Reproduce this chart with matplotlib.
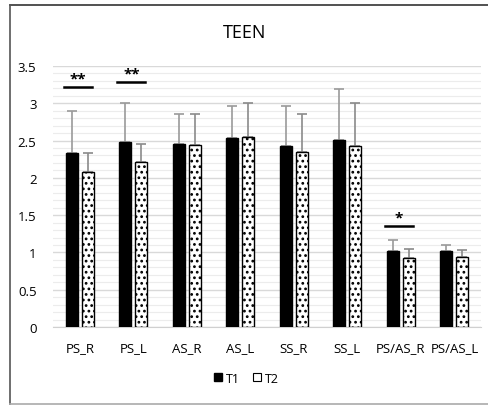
import matplotlib.pyplot as plt
import numpy as np
from matplotlib.lines import Line2D

# Data
categories = ["PS_R", "PS_L", "AS_R", "AS_L", "SS_R", "SS_L", "PS/AS_R", "PS/AS_L"]
t1 = [2.33, 2.48, 2.45, 2.54, 2.43, 2.51, 1.02, 1.02]
t2 = [2.08, 2.21, 2.44, 2.55, 2.35, 2.43, 0.92, 0.94]
t1_err = [0.56, 0.53, 0.40, 0.42, 0.53, 0.68, 0.15, 0.08]
t2_err = [0.26, 0.25, 0.41, 0.45, 0.50, 0.57, 0.12, 0.09]

# significance marks: (category index, line height, label)
sig = [(0, 3.22, "**"), (1, 3.28, "**"), (6, 1.35, "*")]

plt.rcParams['font.family'] = ['Open Sans', 'DejaVu Sans']
plt.rcParams['hatch.linewidth'] = 1.2

fig = plt.figure(figsize=(4.88, 4.06), dpi=100)
ax = fig.add_axes([0.109, 0.192, 0.877, 0.643])

x = np.arange(len(categories))
w = 0.225
off = 0.15

ax.bar(x - off, t1, w, color="black", edgecolor="black", zorder=3, label="T1")
ax.bar(x + off, t2, w, color="white", edgecolor="black", hatch="...", linewidth=1.0,
       zorder=3, label="T2")

# only upper error bars
ax.errorbar(x - off, t1, yerr=[np.zeros(len(t1)), t1_err], fmt="none",
            ecolor="#9a9a9a", elinewidth=1.2, capsize=3.5, capthick=1.2, zorder=2)
ax.errorbar(x + off, t2, yerr=[np.zeros(len(t2)), t2_err], fmt="none",
            ecolor="#8a8a8a", elinewidth=1.2, capsize=3.5, capthick=1.2, zorder=2)

for i, h, lab in sig:
    ax.plot([i - 0.3, i + 0.22], [h, h], color="black", lw=1.8, zorder=4)
    ax.text(i - 0.04, h + 0.02, lab, ha="center", va="bottom", fontsize=11,
            fontweight="bold", zorder=4)

ax.set_ylim(0, 3.5)
ax.set_xlim(-0.5, len(categories) - 0.5)
ax.set_yticks(np.arange(0, 3.51, 0.5))
ax.set_yticklabels(["0", "0.5", "1", "1.5", "2", "2.5", "3", "3.5"])
ax.set_yticks(np.arange(0, 3.51, 0.1), minor=True)
ax.set_xticks(x)
ax.set_xticklabels(categories)
ax.grid(axis="y", which="major", color="#d9d9d9", lw=1.0, zorder=0)
ax.grid(axis="y", which="minor", color="#ececec", lw=0.8, zorder=0)
ax.tick_params(axis="both", which="both", length=0, labelsize=9.5, colors="black", pad=10)
ax.tick_params(axis="y", pad=12)
for s in ["top", "right", "left"]:
    ax.spines[s].set_visible(False)
ax.spines["bottom"].set_color("#d0d0d0")

fig.text(0.502, 0.918, "TEEN", ha="center", va="center", fontsize=13)

handles = [Line2D([], [], marker="s", color="black", linestyle="none", markersize=6,
                  markerfacecolor="black"),
           Line2D([], [], marker="s", color="black", linestyle="none", markersize=6,
                  markerfacecolor="white", markeredgewidth=0.8)]
fig.legend(handles, ["T1", "T2"], loc="center", bbox_to_anchor=(0.502, 0.066), ncol=2,
           frameon=False, fontsize=9, handletextpad=0.0, columnspacing=0.8,
           handlelength=1.2)

# chart border
fig.add_artist(Line2D([10 / 488, 1.0], [1 - 6 / 406, 1 - 6 / 406], color="#333333", lw=1.2))
fig.add_artist(Line2D([10 / 488, 10 / 488], [1 - 6 / 406, 1 / 406], color="#555555", lw=1.2))
fig.add_artist(Line2D([10 / 488, 1.0], [1.5 / 406, 1.5 / 406], color="#aaaaaa", lw=1.2))

fig.savefig("out.png", dpi=100)
